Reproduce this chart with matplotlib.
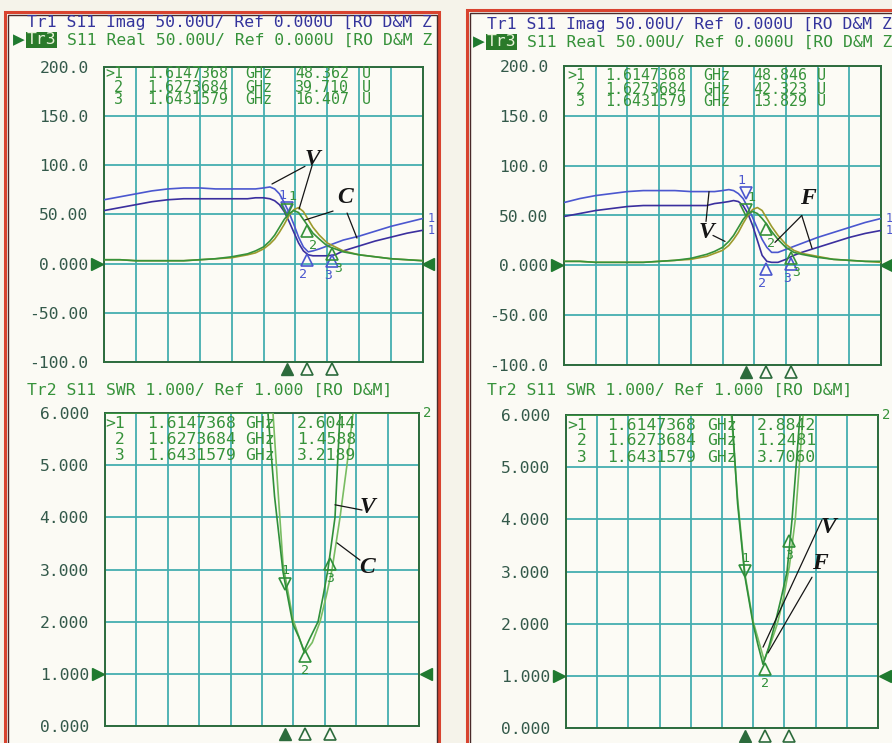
import numpy as np
import matplotlib.pyplot as plt
import matplotlib.transforms as mtransforms
from matplotlib.patches import Rectangle

W, H = 892, 743
MONO = 'DejaVu Sans Mono'
FS = 11.8
CW = 9.95  # pixel width of one character

GRID = '#45aeb0'
FRAME = '#2c6b3c'
LABEL = '#33594a'
GREEN = '#36923a'
OLIVE = '#9c9a2c'
BLUE1 = '#4b57cf'
BLUE2 = '#3b2f9e'
SWR_A = '#2f8f3a'
SWR_B = '#79bc62'
HEAD_BLUE = '#34349c'

# marker frequencies (GHz)
mk_freq = [1.6147368, 1.6273684, 1.6431579]
mk_txt = ['1.6147368', '1.6273684', '1.6431579']

# Imag / Real displays (units)
f_top = [1.500, 1.510, 1.520, 1.530, 1.540, 1.550, 1.560, 1.570, 1.580, 1.590,
         1.595, 1.600, 1.604, 1.607, 1.610, 1.613, 1.616, 1.619, 1.622, 1.625,
         1.628, 1.631, 1.635, 1.640, 1.645, 1.650, 1.660, 1.670, 1.680, 1.690, 1.700]

left_imag_a = [65, 68, 71, 74, 76, 77, 77, 76, 76, 76, 76, 77, 78, 76, 71, 62,
               52, 40, 27, 17, 12, 13, 15, 18, 21, 24, 28, 33, 38, 42, 46]
left_imag_b = [54, 57, 60, 63, 65, 66, 66, 66, 66, 66, 67, 67, 66, 64, 60, 53,
               43, 32, 21, 13, 9, 8, 8, 8, 9, 13, 18, 23, 27, 31, 34]
left_real_v = [4, 4, 3, 3, 3, 3, 4, 5, 7, 10, 13, 17, 23, 29, 37, 45,
               51, 54, 52, 45, 38, 31, 25, 18, 15, 12, 9, 7, 5, 4, 3]
left_real_c = [4, 4, 3, 3, 3, 3, 4, 5, 6, 9, 11, 15, 20, 25, 32, 40,
               49, 55, 57, 53, 45, 37, 29, 21, 17, 13, 9, 7, 5, 4, 3]
left_real_mk = [48.362, 39.710, 16.407]
left_real_mk_txt = ['48.362', '39.710', '16.407']
left_imag_mk = [50, 10, 9]

right_imag_a = [63, 67, 70, 72, 74, 75, 75, 75, 74, 74, 74, 75, 76, 75, 72, 67,
                58, 48, 37, 26, 18, 13, 13, 16, 19, 22, 28, 33, 38, 43, 47]
right_imag_b = [49, 52, 55, 57, 59, 60, 60, 60, 60, 60, 62, 63, 64, 65, 64, 60,
                52, 40, 25, 10, 4, 3, 3, 6, 10, 13, 18, 23, 28, 32, 35]
right_real_v = [4, 4, 3, 3, 3, 3, 4, 5, 7, 11, 14, 18, 24, 30, 38, 46,
                52, 54, 52, 47, 41, 34, 26, 18, 13, 11, 8, 6, 5, 4, 4]
right_real_f = [4, 4, 3, 3, 3, 3, 4, 5, 6, 9, 12, 15, 20, 26, 33, 42,
                50, 56, 58, 55, 47, 39, 30, 21, 15, 12, 9, 6, 5, 4, 3]
right_real_mk = [48.846, 42.323, 13.829]
right_real_mk_txt = ['48.846', '42.323', '13.829']
right_imag_mk = [66, 3, 8]

# SWR displays (values above 6 sit on the top edge of the screen)
left_swr_v_f = [1.500, 1.600, 1.6038, 1.608, 1.6134, 1.6197, 1.6235, 1.6268,
                1.630, 1.6357, 1.639, 1.642, 1.6465, 1.6497, 1.700]
left_swr_v = [6.0, 6.0, 6.0, 4.4, 2.95, 1.95, 1.7, 1.44,
              1.65, 2.0, 2.5, 3.0, 4.0, 6.0, 6.0]
left_swr_c_f = [1.500, 1.600, 1.607, 1.610, 1.6134, 1.6197, 1.627, 1.632,
                1.637, 1.641, 1.6446, 1.6497, 1.6541, 1.658, 1.700]
left_swr_c = [6.0, 6.0, 6.0, 4.6, 3.1, 2.05, 1.40, 1.6,
              2.0, 2.5, 3.0, 4.0, 5.0, 6.0, 6.0]
left_swr_mk = [2.6044, 1.4588, 3.2189]
left_swr_mk_txt = ['2.6044', '1.4588', '3.2189']

right_swr_v_f = [1.500, 1.600, 1.6064, 1.610, 1.6147, 1.6199, 1.623, 1.6263,
                 1.630, 1.634, 1.638, 1.6417, 1.6449, 1.650, 1.700]
right_swr_v = [6.0, 6.0, 6.0, 4.3, 2.9, 2.0, 1.6, 1.22,
               1.55, 2.0, 2.5, 3.0, 4.0, 6.0, 6.0]
right_swr_f_f = [1.500, 1.600, 1.6060, 1.610, 1.6147, 1.6199, 1.627, 1.631,
                 1.6355, 1.6395, 1.6432, 1.647, 1.6495, 1.652, 1.700]
right_swr_f = [6.0, 6.0, 6.0, 4.4, 2.95, 2.05, 1.3, 1.6,
               2.0, 2.5, 3.1, 4.0, 5.0, 6.0, 6.0]
right_swr_mk = [2.8842, 1.2481, 3.7060]
right_swr_mk_txt = ['2.8842', '1.2481', '3.7060']

top_ticks = [200, 150, 100, 50, 0, -50, -100]
top_labels = ['200.0', '150.0', '100.0', '50.00', '0.000', '-50.00', '-100.0']
swr_ticks = [6, 5, 4, 3, 2, 1, 0]
swr_labels = ['6.000', '5.000', '4.000', '3.000', '2.000', '1.000', '0.000']

fig = plt.figure(figsize=(W / 100, H / 100), dpi=100, facecolor='#f5f3ea')


def ftext(x, y, s, **kw):
    kw.setdefault('family', MONO)
    kw.setdefault('fontsize', FS)
    kw.setdefault('va', 'center')
    return fig.text(x / W, 1 - y / H, s, **kw)


def make_axes(x0, y0, x1, y1, ylim, ticks, labels, pad):
    ax = fig.add_axes([x0 / W, 1 - y1 / H, (x1 - x0) / W, (y1 - y0) / H])
    ax.set_facecolor('#fcfbf5')
    ax.set_xlim(1.5, 1.7)
    ax.set_ylim(*ylim)
    ax.set_xticks(np.linspace(1.5, 1.7, 11))
    ax.set_yticks(ticks)
    ax.set_yticklabels(labels, family=MONO, fontsize=FS, color=LABEL)
    ax.tick_params(length=0, pad=pad, labelbottom=False)
    ax.grid(True, color=GRID, lw=1.3)
    ax.set_axisbelow(True)
    for s in ax.spines.values():
        s.set_color(FRAME)
        s.set_linewidth(1.4)
    return ax


def put_markers(ax, vals, color, dx=0):
    up = mtransforms.offset_copy(ax.transData, fig=fig, x=0, y=4.5, units='points')
    dn = mtransforms.offset_copy(ax.transData, fig=fig, x=0, y=-4.5, units='points')
    ax.plot(mk_freq[:1], vals[:1], 'v', ms=8, mfc='none', mec=color, mew=1.2,
            transform=up, clip_on=False, zorder=6)
    ax.annotate('1', (mk_freq[0], vals[0]), xytext=(dx, 14), textcoords='offset points',
                ha='center', va='center', family=MONO, fontsize=9.5, color=color, zorder=6)
    ax.plot(mk_freq[1:], vals[1:], '^', ms=8, mfc='none', mec=color, mew=1.2,
            transform=dn, clip_on=False, zorder=6)
    for i in (1, 2):
        ax.annotate(str(i + 1), (mk_freq[i], vals[i]), xytext=(dx, -15),
                    textcoords='offset points', ha='center', va='center',
                    family=MONO, fontsize=9.5, color=color, zorder=6)


def bottom_strip(ax, off):
    tr = ax.get_xaxis_transform()
    ax.plot(mk_freq[:1], [off], '^', ms=8, color=FRAME, transform=tr, clip_on=False)
    ax.plot(mk_freq[1:], [off, off], '^', ms=8, mfc='none', mec=FRAME, mew=1.2,
            transform=tr, clip_on=False)


def ref_arrows(ax, y, xl, xr):
    tr = ax.get_yaxis_transform()
    ax.plot([xl], [y], '>', ms=9, color='#1f7a2f', transform=tr, clip_on=False)
    ax.plot([xr], [y], '<', ms=9, color='#1f7a2f', transform=tr, clip_on=False)


def table(rows_y, x_cols, vals_txt, unit, fs):
    for i in range(3):
        y = rows_y[i]
        ftext(x_cols[0], y, ('>' if i == 0 else ' ') + str(i + 1), color=GREEN, fontsize=fs)
        ftext(x_cols[1], y, mk_txt[i], color=GREEN, fontsize=fs)
        ftext(x_cols[2], y, 'GHz', color=GREEN, fontsize=fs)
        ftext(x_cols[3], y, vals_txt[i], color=GREEN, fontsize=fs)
        if unit:
            ftext(x_cols[4], y, unit, color=GREEN, fontsize=fs)


def callout(ax, letter, pos, starts, ends):
    ax.text(pos[0], pos[1], letter, family='Liberation Serif', style='italic',
            weight='bold', fontsize=17, color='#151515', ha='center', va='center', zorder=8)
    for s, e in zip(starts, ends):
        ax.annotate('', xy=e, xytext=s,
                    arrowprops=dict(arrowstyle='-', color='#151515', lw=0.9,
                                    shrinkA=0, shrinkB=0), zorder=8)


# panel backgrounds and borders
for x0, y0, x1 in [(5, 12, 439), (467, 10, 905)]:
    fig.add_artist(Rectangle((x0 / W, -0.01), (x1 - x0) / W, 1.01 - y0 / H,
                             transform=fig.transFigure, fc='#fbfaf4', ec='none', zorder=-1))
    fig.add_artist(Rectangle((x0 / W, -0.01), (x1 - x0) / W, 1.01 - y0 / H,
                             transform=fig.transFigure, fill=False, ec='#d8432f', lw=2.2, zorder=3))
    fig.add_artist(Rectangle(((x0 + 2.5) / W, -0.01), (x1 - x0 - 5) / W, 1.01 - (y0 + 2.5) / H,
                             transform=fig.transFigure, fill=False, ec='#4a2a2a', lw=1.0, zorder=3))

panels = [
    dict(x=0, top=(104, 67, 423, 362), bot=(105, 413, 419, 726),
         ia=left_imag_a, ib=left_imag_b, rv=left_real_v, rc=left_real_c,
         rmk=left_real_mk, rmk_txt=left_real_mk_txt, imk=left_imag_mk,
         sv_f=left_swr_v_f, sv=left_swr_v, sc_f=left_swr_c_f, sc=left_swr_c,
         smk=left_swr_mk, smk_txt=left_swr_mk_txt,
         head_x=27, tcols=(105, 147, 245, 295, 362), bcols=(105, 147, 245, 297),
         trows=(74, 87, 100), brows=(423, 439, 456)),
    dict(x=1, top=(564, 66, 881, 365), bot=(566, 415, 878, 728),
         ia=right_imag_a, ib=right_imag_b, rv=right_real_v, rc=right_real_f,
         rmk=right_real_mk, rmk_txt=right_real_mk_txt, imk=right_imag_mk,
         sv_f=right_swr_v_f, sv=right_swr_v, sc_f=right_swr_f_f, sc=right_swr_f,
         smk=right_swr_mk, smk_txt=right_swr_mk_txt,
         head_x=487, tcols=(567, 605, 703, 753, 817), bcols=(567, 607, 707, 757),
         trows=(76, 89, 102), brows=(425, 441, 458)),
]

axes = []
for p in panels:
    x0, y0, x1, y1 = p['top']
    ax = make_axes(x0, y0, x1, y1, (-100, 200), top_ticks, top_labels, 11)
    ax.plot(f_top, p['ia'], color=BLUE1, lw=1.2, zorder=3)
    ax.plot(f_top, p['ib'], color=BLUE2, lw=1.2, zorder=3)
    ax.plot(f_top, p['rc'], color=OLIVE, lw=1.2, zorder=4)
    ax.plot(f_top, p['rv'], color=GREEN, lw=1.2, zorder=4)
    put_markers(ax, p['imk'], BLUE1, dx=-3)
    put_markers(ax, p['rmk'], GREEN, dx=4)
    bottom_strip(ax, -0.024)
    ref_arrows(ax, 0, -0.022, 1.016)
    for v in (p['ia'][-1], p['ib'][-1]):
        ax.annotate('1', (1.7, v), xytext=(3, 0), textcoords='offset points',
                    ha='left', va='center', family=MONO, fontsize=8.5, color=BLUE1)

    bx0, by0, bx1, by1 = p['bot']
    bx = make_axes(bx0, by0, bx1, by1, (0, 6), swr_ticks, swr_labels, 11.5)
    bx.plot(p['sc_f'], p['sc'], color=SWR_B, lw=1.2, zorder=3)
    bx.plot(p['sv_f'], p['sv'], color=SWR_A, lw=1.2, zorder=4)
    put_markers(bx, p['smk'], SWR_A)
    bottom_strip(bx, -0.024)
    ref_arrows(bx, 1, -0.022, 1.022)
    bx.text(1.012, 1.0, '2', transform=bx.transAxes, family=MONO, fontsize=10,
            color=GREEN, ha='left', va='center')
    axes.append((ax, bx))

    hx = p['head_x']
    y_h1 = 23 + 2 * p['x']
    y_h2 = 40 + 2 * p['x']
    ftext(hx, y_h1, 'Tr1 S11 Imag 50.00U/ Ref 0.000U [RO D&M Z', color=HEAD_BLUE)
    ftext(hx - 14, y_h2, '\u25b6', family='DejaVu Sans', fontsize=11, color='#1f7a2f')
    ftext(hx, y_h2, 'Tr3', color='#e8f2d8',
          bbox=dict(boxstyle='square,pad=0.05', fc='#2a7a2a', ec='none'))
    ftext(hx + 4 * CW, y_h2, 'S11 Real 50.00U/ Ref 0.000U [RO D&M Z', color=GREEN)
    ftext(hx, 390, 'Tr2 S11 SWR 1.000/ Ref 1.000 [RO D&M]', color=GREEN)

    table(p['trows'], p['tcols'], p['rmk_txt'], 'U', 10.8)
    table(p['brows'], p['bcols'], p['smk_txt'], None, FS)

# V / C / F callouts
(lt, lb), (rt, rb) = axes
callout(lt, 'V', (1.631, 106), [(1.626, 99), (1.6305, 100)], [(1.6053, 81), (1.6223, 55.5)])
callout(lt, 'C', (1.651, 67), [(1.6436, 53.5), (1.6524, 51.5)], [(1.626, 44.4), (1.6586, 26)])
callout(lb, 'V', (1.6675, 4.18), [(1.6637, 4.14)], [(1.6465, 4.24)])
callout(lb, 'C', (1.6669, 3.03), [(1.6624, 3.18)], [(1.6478, 3.51)])
callout(rt, 'V', (1.5902, 33), [(1.5896, 44), (1.594, 30)], [(1.5915, 74), (1.6016, 24)])
callout(rt, 'F', (1.654, 67), [(1.650, 50), (1.650, 50)], [(1.6331, 23), (1.6565, 17)])
callout(rb, 'V', (1.668, 3.85), [(1.6641, 3.99)], [(1.6263, 1.55)])
callout(rb, 'F', (1.6628, 3.16), [(1.6577, 2.89)], [(1.6295, 1.44)])

fig.savefig('out.png', dpi=100, facecolor=fig.get_facecolor())
